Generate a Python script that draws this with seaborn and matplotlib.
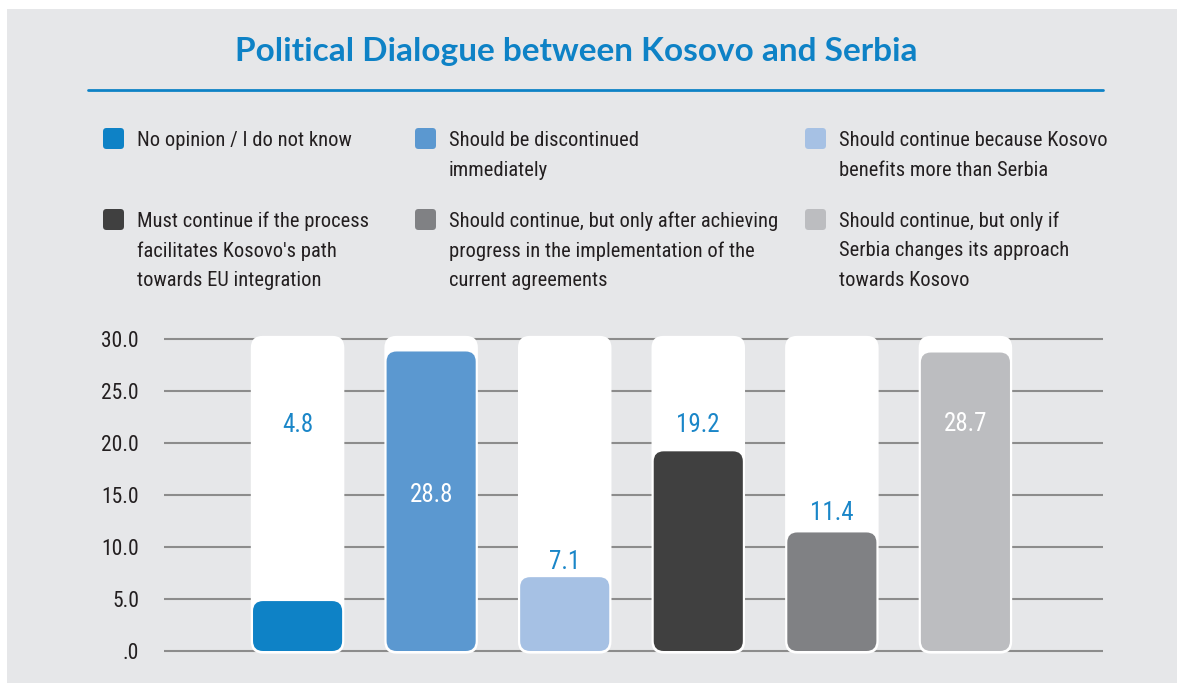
import matplotlib
matplotlib.use("Agg")
import matplotlib.pyplot as plt
from matplotlib import font_manager
from matplotlib.patches import FancyBboxPatch, Rectangle
from matplotlib.lines import Line2D
import seaborn as sns
import pandas as pd

# ---------------- data ----------------
categories = [
    "No opinion / I do not know",
    "Should be discontinued\nimmediately",
    "Should continue because Kosovo\nbenefits more than Serbia",
    "Must continue if the process\nfacilitates Kosovo's path\ntowards EU integration",
    "Should continue, but only after achieving\nprogress in the implementation of the\ncurrent agreements",
    "Should continue, but only if\nSerbia changes its approach\ntowards Kosovo",
]
values = [4.8, 28.8, 7.1, 19.2, 11.4, 28.7]
track_max = [30.3] * 6
colors = ["#0e82c6", "#5b98d0", "#a6c1e4", "#404040", "#808184", "#bcbdc0"]
label_y = [21.7, 15.0, 8.6, 21.7, 13.3, 21.8]
label_colors = ["#1a86c8", "white", "#1a86c8", "#1a86c8", "#1a86c8", "white"]
yticks = [0, 5, 10, 15, 20, 25, 30]
title = "Political Dialogue between Kosovo and Serbia"

# ---------------- fonts ----------------
avail = {f.name for f in font_manager.fontManager.ttflist}
cond = None
for cand in ["Roboto Condensed", "Liberation Sans Narrow", "Open Sans Condensed", "Noto Sans Condensed"]:
    if cand in avail:
        cond = cand
        break
if cond is None:
    cond = "Liberation Sans"
title_font = "Lato" if "Lato" in avail else "DejaVu Sans"

sns.set_theme(style="white")
plt.rcParams["font.family"] = [cond, "DejaVu Sans"]

W, H = 1177, 683
fig = plt.figure(figsize=(W / 100, H / 100), dpi=100)
fig.patch.set_facecolor("white")

PANEL = "#e6e7e9"
fig.patches.append(Rectangle((7 / W, 0), 1 - 7 / W, 1 - 9 / H, transform=fig.transFigure,
                             facecolor=PANEL, edgecolor="none", zorder=-5))

# title + rule
fig.text(576 / W, 1 - 61 / H, title, ha="center", va="baseline", fontsize=24,
         fontweight="bold", color="#0e82c6", family=[title_font, "DejaVu Sans"])
fig.lines.append(Line2D([88 / W, 1103 / W], [1 - 90 / H, 1 - 90 / H], transform=fig.transFigure,
                        color="#0e82c6", lw=2))

# legend (manual, 3 columns x 2 rows)
col_sq = [103, 415, 805]
row_top = [128, 209]
for i, (cat, col) in enumerate(zip(categories, colors)):
    r, c = divmod(i, 3)
    x0 = col_sq[c]
    y0 = row_top[r]
    fig.patches.append(FancyBboxPatch((x0 / W, 1 - (y0 + 21) / H), 21 / W, 21 / H,
                                      boxstyle="round,pad=0,rounding_size=0.003",
                                      mutation_aspect=W / H,
                                      transform=fig.transFigure, facecolor=col, edgecolor="none"))
    for j, line in enumerate(cat.split("\n")):
        fig.text((x0 + 34) / W, 1 - (y0 + 12 + 30 * j) / H, line, ha="left", va="center",
                 fontsize=14.8, color="#231f20")

# ---------------- axes ----------------
y_lo, y_hi = -0.3, 30.6
ppu = 10.4
bottom_px = 651 + (-y_lo) * ppu
top_px = 339 - (y_hi - 30) * ppu
ax = fig.add_axes([164 / W, 1 - bottom_px / H, (1103 - 164) / W, (bottom_px - top_px) / H])
ax.set_facecolor("none")
ax.set_zorder(2)

df = pd.DataFrame({"cat": categories, "value": values, "track": track_max})
sns.barplot(data=df, x="cat", y="track", color="white", saturation=1, width=0.70, ax=ax, zorder=2)
n_track = len(ax.patches)
sns.barplot(data=df, x="cat", y="value", hue="cat", palette=colors, saturation=1, width=0.667,
            legend=False, ax=ax, zorder=3)

# rounded corners
patches = list(ax.patches)
for k, p in enumerate(patches):
    x, y, w, h = p.get_x(), p.get_y(), p.get_width(), p.get_height()
    fc = p.get_facecolor()
    z = p.get_zorder()
    p.remove()
    if k < n_track:
        y = y - 0.25
        h = h + 0.25
        rs = 12 / 133.5
    else:
        rs = 10 / 133.5
    fb = FancyBboxPatch((x, y), w, h, boxstyle=f"round,pad=0,rounding_size={rs}",
                        mutation_aspect=133.5 / ppu, facecolor=fc, edgecolor="none",
                        zorder=z, clip_on=False)
    ax.add_patch(fb)

for i, (v, ly, lc) in enumerate(zip(values, label_y, label_colors)):
    ax.text(i, ly, f"{v:.1f}", ha="center", va="center", fontsize=18, color=lc, zorder=5)

ax.set_xlim(-1, 6.03)
ax.set_ylim(y_lo, y_hi)
ax.set_yticks(yticks)
ax.set_yticklabels([f"{t:.1f}" if t != 0 else ".0" for t in yticks], fontsize=15.5, color="#231f20")
for t in yticks:
    ax.axhline(t, color="#8c8c8c", lw=1.5, zorder=1)
ax.set_xticks([])
ax.set_xlabel("")
ax.set_ylabel("")
ax.tick_params(axis="y", length=0, pad=18)
for s in ax.spines.values():
    s.set_visible(False)

fig.savefig("out.png", dpi=100, facecolor=fig.get_facecolor())
